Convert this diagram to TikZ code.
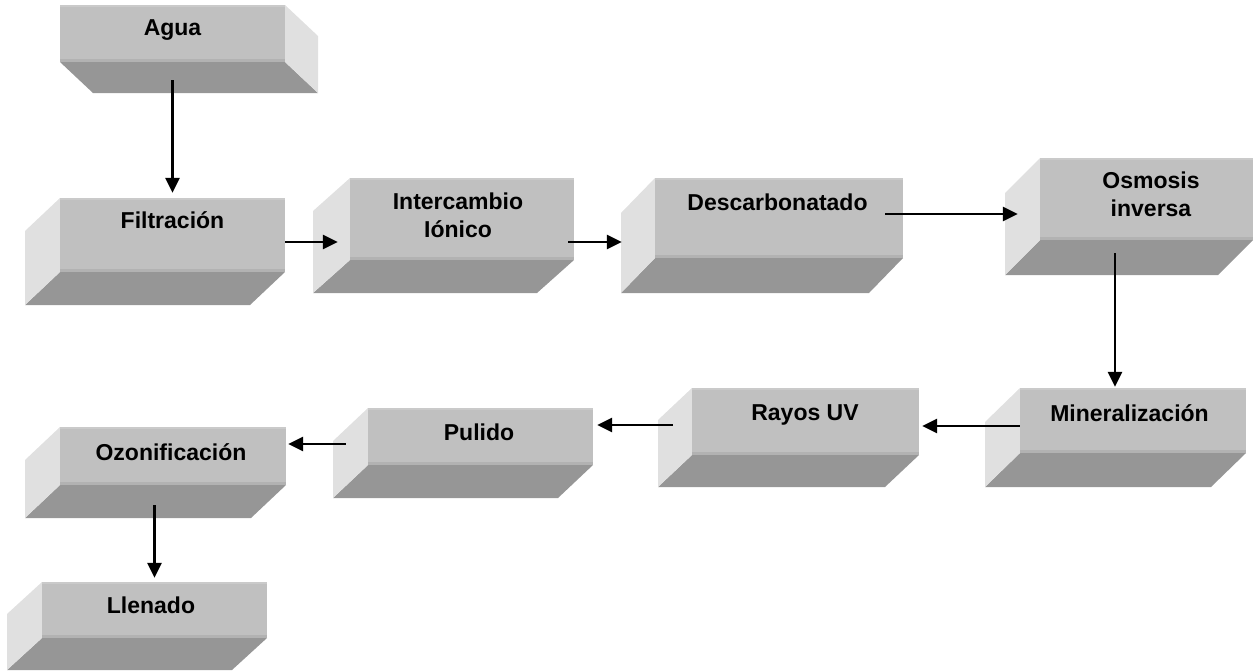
\documentclass[tikz,border=0pt]{standalone}
\usepackage{fontspec}
\setmainfont{Liberation Sans}
\usetikzlibrary{arrows.meta,fit}

\definecolor{caraFrente}{HTML}{C0C0C0}
\definecolor{caraInf}{HTML}{969696}
\definecolor{caraLado}{HTML}{E0E0E0}
\definecolor{filoClaro}{HTML}{CACACA}
\definecolor{filoOscuro}{HTML}{B2B2B2}

\tikzset{
  frente/.style={fill=caraFrente, draw=none, inner sep=0pt},
  rotulo/.style={anchor=base, inner sep=0pt,
    font=\fontsize{23}{28}\selectfont\bfseries},
  flecha/.style={line width=2.6pt, -{Triangle[length=15pt,width=14pt]}}
}

% Beveled block: name, x1, y1, x2, y2 (front face), depth dx, dy, x of the side face
\newcommand{\bloque}[8]{%
  \fill[caraInf] (#2,#5) -- (#4,#5) -- ({#4+(#6)},{#5+(#7)}) -- ({#2+(#6)},{#5+(#7)}) -- cycle;
  \fill[caraLado] (#8,#3) -- ({#8+(#6)},{#3+(#7)}) -- ({#8+(#6)},{#5+(#7)}) -- (#8,#5) -- cycle;
  \node[frente, fit={(#2,#3) (#4,#5)}] (#1) {};
  \fill[filoOscuro] (#2,{#5-3}) rectangle (#4,#5);
  \fill[filoClaro] (#2,#3) rectangle (#4,{#3+1.5});
}

\newcommand{\dosl}[2]{\begin{tabular}[t]{@{}c@{}}#1\\#2\end{tabular}}

\begin{document}
\begin{tikzpicture}[x=1pt, y=-1pt]
\useasboundingbox (0,0) rectangle (1254,670);

% blocks
\bloque{agua}{60}{5}{285}{62}{33}{31}{285}
\bloque{filt}{60}{198}{285}{272}{-35}{33}{60}
\bloque{inter}{350}{178}{574}{260}{-37}{33}{350}
\bloque{desc}{655}{178}{903}{258}{-34}{35}{655}
\bloque{osm}{1040}{158}{1253}{240}{-35}{35}{1040}
\bloque{min}{1020}{388}{1246}{453}{-35}{34}{1020}
\bloque{rayos}{692}{388}{919}{455}{-34}{32}{692}
\bloque{pul}{368}{408}{593}{465}{-35}{33}{368}
\bloque{ozo}{60}{427}{286}{485}{-35}{33}{60}
\bloque{llen}{42}{582}{267}{638}{-35}{32}{42}

% labels
\node[rotulo] (agua-t)  at (172.5,35)  {Agua};
\node[rotulo] (filt-t)  at (172.5,228) {Filtración};
\node[rotulo] (inter-t) at (458,209)   {\dosl{Intercambio}{Iónico}};
\node[rotulo] (desc-t)  at (777.5,210) {Descarbonatado};
\node[rotulo] (osm-t)   at (1151,188)  {\dosl{Osmosis}{inversa}};
\node[rotulo] (min-t)   at (1129.5,421.5) {Mineralización};
\node[rotulo] (rayos-t) at (805,420)   {Rayos UV};
\node[rotulo] (pul-t)   at (479,440)   {Pulido};
\node[rotulo] (ozo-t)   at (171,460)   {Ozonificación};
\node[rotulo] (llen-t)  at (151,613)   {Llenado};

% flow
\draw[flecha] ([yshift=-18pt]agua.south) -- ([yshift=5pt]filt.north);
\draw[flecha, shorten >=12pt] ([yshift=-7pt]filt.east) -- ([yshift=-7pt]filt.east -| inter.west);
\draw[flecha, shorten >=33pt] ([xshift=-6pt,yshift=-23pt]inter.east) -- ([yshift=-23pt]inter.east -| desc.west);
\draw[flecha, shorten >=22pt] ([xshift=-18pt,yshift=4pt]desc.east) -- ([yshift=4pt]desc.east -| osm.west);
\draw[flecha, shorten >=1pt] ([xshift=-31.5pt,yshift=-13pt]osm.south) -- ([xshift=-31.5pt]osm.south |- min.north);
\draw[flecha, shorten >=3pt] ([yshift=-5.5pt]min.west) -- ([yshift=-5.5pt]min.west -| rayos.east);
\draw[flecha, shorten >=4pt] ([xshift=-19pt,yshift=-3.5pt]rayos.west) -- ([yshift=-3.5pt]rayos.west -| pul.east);
\draw[flecha, shorten >=2pt] ([xshift=-22pt,yshift=-7.5pt]pul.west) -- ([yshift=-7.5pt]pul.west -| ozo.east);
\draw[flecha, shorten >=4pt] ([yshift=-20pt]ozo.south -| llen.north) -- (llen.north);
\end{tikzpicture}
\end{document}
